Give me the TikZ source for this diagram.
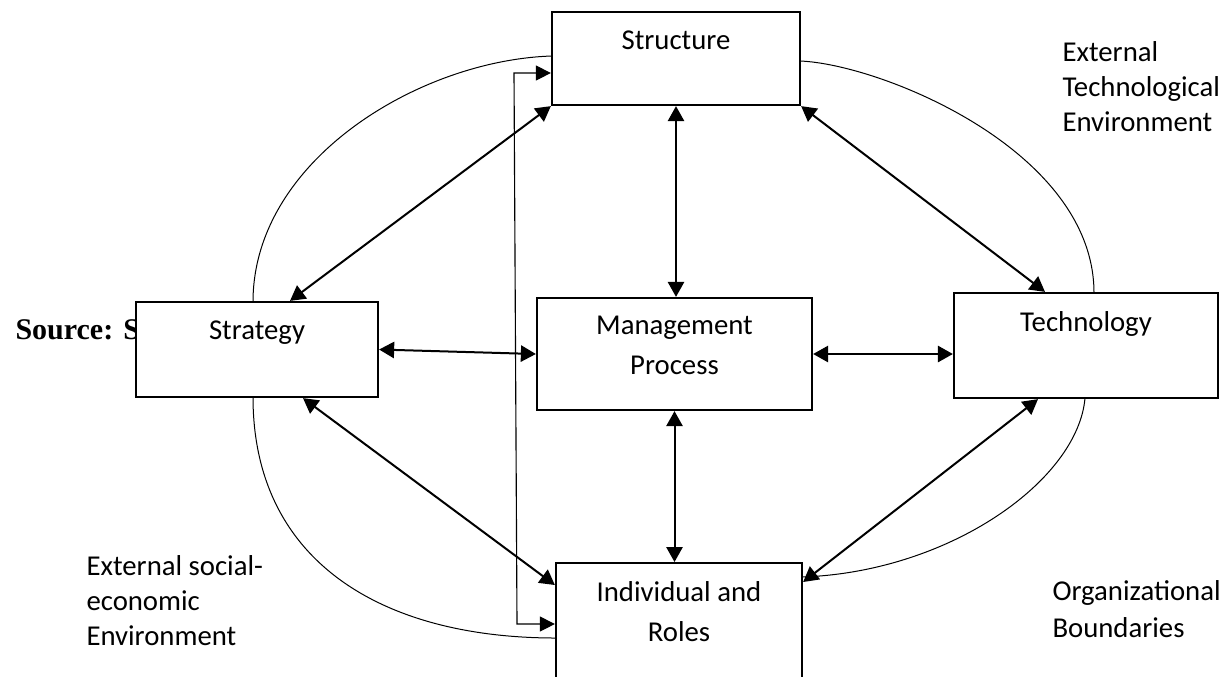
\documentclass[tikz,border=0pt]{standalone}
\usepackage{fontspec}
\setmainfont{Carlito}
\newfontfamily\sourcefont{Liberation Serif}
\usetikzlibrary{arrows.meta,positioning}

\tikzset{
  box/.style={draw, line width=0.9pt, fill=white, inner sep=0pt},
  boxtext/.style={font=\fontsize{11.5}{16}\selectfont, align=center, anchor=north, inner sep=0pt},
  envtext/.style={font=\fontsize{11.5}{14}\selectfont, align=left, anchor=north west, inner sep=0pt},
  link/.style={line width=0.8pt, {Triangle[length=6pt,width=6.5pt]}-{Triangle[length=6pt,width=6.5pt]}},
  feedback/.style={line width=0.45pt, {Triangle[length=6pt,width=6pt]}-{Triangle[length=6pt,width=6pt]}},
  boundary/.style={line width=0.4pt}
}

\begin{document}
\begin{tikzpicture}[x=0.4pt, y=-0.4pt]
\useasboundingbox (0,0) rectangle (1232,676);

% Source line, mostly hidden by the strategy box
\node[font=\fontsize{12}{14}\selectfont\sourcefont\bfseries, anchor=base west, inner sep=0pt] (source) at (15,339) {Source: Sc};

% Organizational boundaries
\draw[boundary] (253,302) .. controls (253,160) and (420,60) .. (552,56);
\draw[boundary] (800,61) .. controls (880,64) and (1094,150) .. (1094,293);
\draw[boundary] (253,397) .. controls (253,560) and (380,638) .. (556,638);
\draw[boundary] (1085,398) .. controls (1078,480) and (950,572) .. (802,577);

% Boxes
\node[box, minimum width=99.2pt, minimum height=37.2pt] (Structure) at (676,58.5) {};
\node[box, minimum width=96.8pt, minimum height=38pt] (Strategy) at (257,349.5) {};
\node[box, minimum width=110pt, minimum height=44.8pt] (Management) at (674.5,354) {};
\node[box, minimum width=105.6pt, minimum height=42pt] (Technology) at (1086,345.5) {};
\node[box, minimum width=98.4pt, minimum height=52pt, anchor=north] (Individual) at (679,562) {};

\node[boxtext, below=7.6pt of Structure.north] (structureText) {Structure};
\node[boxtext, below=7.6pt of Strategy.north] (strategyText) {Strategy};
\node[boxtext, below=7.6pt of Management.north] (managementText) {Management\\Process};
\node[boxtext, below=7.6pt of Technology.north] (technologyText) {Technology};
\node[boxtext, below=7.6pt of Individual.north] (individualText) {Individual and\\Roles};

% Environments
\node[envtext] (extTech) at (1062,41) {External\\Technological\\Environment};
\node[envtext] (extSocial) at (86,555) {External social-\\economic\\Environment};
\node[envtext, font=\fontsize{11.5}{15}\selectfont] (orgBound) at (1052,580) {Organizational\\Boundaries};

% Links
\draw[link] (Structure.south west) -- ([xshift=13.2pt]Strategy.north);
\draw[link] (Structure.south) -- (Structure.south |- Management.north);
\draw[link] (Structure.south east) -- ([xshift=-16.4pt]Technology.north);
\draw[link] (Strategy.east) -- (Management.west);
\draw[link] (Management.east) -- (Technology.west |- Management.east);
\draw[link] (Management.south) -- (Management.south |- Individual.north);
\draw[link] ([xshift=18.4pt]Strategy.south) -- ([yshift=-9.2pt]Individual.north west);
\draw[link] ([xshift=-19.2pt]Technology.south) -- ([yshift=-8pt]Individual.north east);

% Feedback from structure to roles
\coordinate (fbTop) at (514,73);
\coordinate (fbBottom) at (517,624);
\draw[feedback] (Structure.west |- fbTop) -- (fbTop) -- (fbBottom) -- (Individual.west |- fbBottom);

\end{tikzpicture}
\end{document}
